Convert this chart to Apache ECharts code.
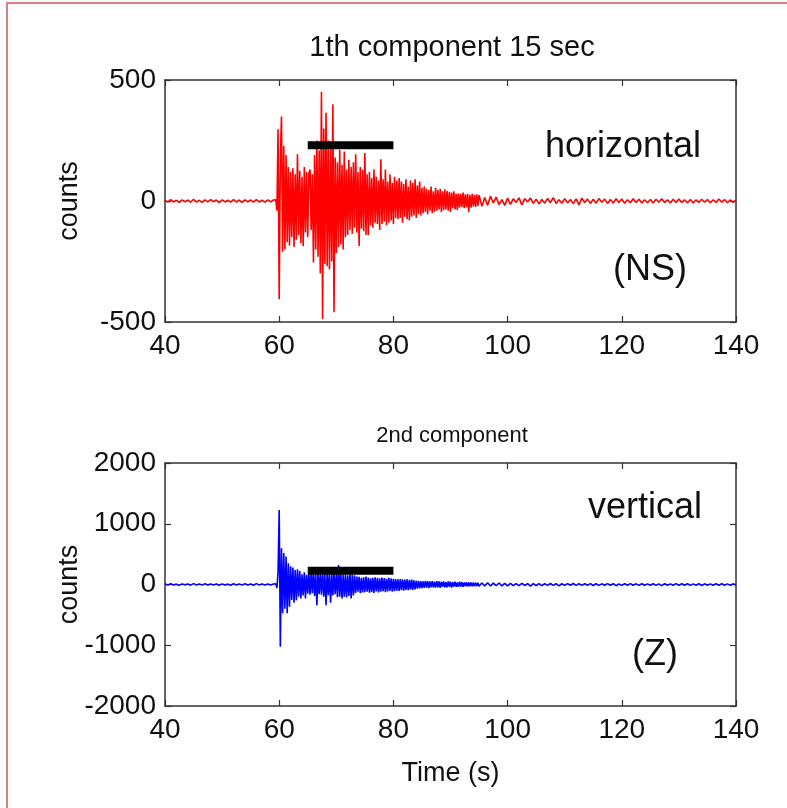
<!DOCTYPE html>
<html>
<head>
<meta charset="utf-8">
<script src="https://cdn.jsdelivr.net/npm/echarts@6/dist/echarts.min.js"></script>
<style>html,body{margin:0;padding:0;background:#fff;}#c{width:787px;height:808px;}</style>
</head>
<body>
<div id="c"></div>
<script>
// Traces are stored in three uniformly sampled pieces: [start s, step s, values]
// 1th component (horizontal, NS), counts
const nsPre = [ // 40 .. 59 s, step 0.5
  4,-5,6,-4,3,-6,5,-3,4,-5,
  7,-4,3,-6,5,-4,6,-3,4,-7,
  5,-4,3,-5,6,-4,4,-6,5,-3,
  4,-5,6,-4,3,-5,5,-4,4
];
const nsMain = [ // 59.4 .. 95.0 s, step 0.2
  5,-40,296,-406,180,349,-210,227,-200,190,
  -170,140,-185,120,-150,135,-190,110,-160,193,
  -140,125,-175,100,-187,140,-130,120,-150,115,
  130,-120,110,-254,190,-200,250,-230,210,-300,
  450,-488,300,-260,365,-270,250,-283,220,-250,
  400,-460,180,-215,160,-190,212,-180,150,-200,
  205,-150,130,-140,170,-120,140,-135,160,-110,
  193,-130,120,-186,140,-115,130,-125,198,-140,
  110,-140,120,-100,95,-110,130,-90,100,-95,
  85,-120,172,-95,90,-85,130,-100,80,-90,
  110,-80,75,-95,100,-70,85,-75,95,-70,
  80,-90,70,-65,90,-75,60,-80,85,-65,
  75,-60,90,-70,65,-55,80,-60,55,-50,
  60,-45,50,-55,45,-40,60,-50,40,-45,
  55,-40,45,-35,50,-45,40,-38,48,-35,
  42,-40,38,-45,35,-30,40,-35,30,-38,
  32,-28,30,-25,35,-30,28,-26,30,-45,
  25,-28,30,-22,26,-25,28,-20,24
];
const nsPost = [ // 95.5 .. 140 s, step 0.5
  -22,14,-18,20,-8,16,-15,6,-18,
  12,-14,9,-6,13,-16,10,-4,12,-10,
  8,-12,6,-9,11,-7,14,-10,5,-9,
  10,-8,6,-11,9,-16,12,-6,8,-10,
  7,-9,10,-5,8,-10,6,-8,9,-6,
  8,-9,5,-7,9,-6,7,-8,5,-7,
  6,-8,7,-5,9,-6,5,-8,7,-6,
  8,-6,5,-7,6,-8,5,-6,7,-5,
  6,-7,5,-6,8,-5,6,-7,5,-6,
  5
];
// 2nd component (vertical, Z), counts
const zPre = [ // 40 .. 59 s, step 0.5
  8,-10,12,-8,6,-12,10,-6,9,-11,
  14,-8,7,-10,12,-9,10,-7,8,-12,
  10,-8,6,-11,12,-9,8,-10,11,-7,
  9,-12,14,-8,7,-10,10,-9,8
];
const zMain = [ // 59.4 .. 95.0 s, step 0.2
  10,-60,200,1226,-1024,596,-475,520,-400,460,
  -475,350,-365,300,-255,280,-300,240,-260,250,
  -200,220,-230,170,-180,200,-230,160,-150,190,
  -170,200,-145,210,-190,180,-340,200,-160,190,
  -170,210,-200,180,-340,200,-175,190,-300,185,
  -180,200,-160,175,-210,320,-200,180,-230,160,
  -200,170,-215,150,-190,175,-230,160,-180,150,
  -140,130,-120,125,-145,110,-130,120,-125,130,
  -120,115,-135,100,-125,110,-140,120,-115,105,
  -130,100,-120,115,-110,105,-125,95,-115,110,
  -105,100,-120,95,-110,90,-100,85,-105,90,
  -95,85,-100,80,-90,85,-95,75,-85,80,
  -90,70,-80,65,-70,60,-65,55,-60,50,
  -55,60,-50,55,-60,50,-45,55,-50,45,
  -50,55,-45,50,-55,45,-40,50,-45,40,
  -45,50,-40,45,-50,40,-35,45,-40,35,
  -40,45,-35,40,-38,35,-30,38,-35,32,
  -30,35,-28,32,-30,28,-25,30,-28
];
const zPost = [ // 95.5 .. 140 s, step 0.5
  25,-22,28,-25,22,-20,25,-22,20,
  -22,18,-20,15,-18,20,-16,15,-25,14,
  -16,15,-18,12,-14,16,-15,13,-22,12,
  -15,14,-13,16,-14,12,-15,13,-12,14,
  -16,12,-14,11,-13,15,-12,13,-20,11,
  -14,12,-13,14,-12,11,-15,12,-13,10,
  -12,13,-14,11,-18,12,-13,10,-12,14,
  -13,11,-12,13,-14,10,-12,12,-16,11,
  -12,10,-13,12,-11,13,-12,10,-14,11,
  -10
];
const pieceStart = [40, 59.4, 95.5];
const pieceStep = [0.5, 0.2, 0.5];
// 15 s window bars (start, end in s; level in counts)
const windowSec = [65, 80];
const barLevelNS = 230;
const barLevelZ = 225;
// axes
const xRange = [40, 140], xStep = 20;
const nsRange = [-500, 500], nsStep = 500;
const zRange = [-2000, 2000], zStep = 1000;
const titles = ['1th component 15 sec', '2nd component'];
const notes = ['horizontal', '(NS)', 'vertical', '(Z)'];

const FONT = "'Liberation Sans', Arial, sans-serif";
const AX = '#333';
function joinPieces(pieces) {
  const out = [];
  pieces.forEach((vals, p) => vals.forEach((v, i) => out.push([+(pieceStart[p] + i * pieceStep[p]).toFixed(3), v])));
  return out;
}

function xAx(grid, top) {
  return {
    type: 'value', gridIndex: grid, min: xRange[0], max: xRange[1], interval: xStep,
    position: top ? 'top' : 'bottom',
    axisLine: { show: true, onZero: false, lineStyle: { color: AX, width: 1.5 } },
    axisTick: { show: true, inside: true, length: 6, lineStyle: { color: AX, width: 1.2 } },
    axisLabel: { show: !top, fontSize: 28, color: '#111', fontFamily: FONT, margin: 10 },
    splitLine: { show: false },
    name: (!top && grid === 1) ? 'Time (s)' : '',
    nameLocation: 'middle', nameGap: 54, nameMoveOverlap: false,
    nameTextStyle: { fontSize: 27, color: '#111', fontFamily: FONT }
  };
}
function yAx(grid, right, range, step) {
  return {
    type: 'value', gridIndex: grid, min: range[0], max: range[1], interval: step,
    position: right ? 'right' : 'left',
    axisLine: { show: true, onZero: false, lineStyle: { color: AX, width: 1.5 } },
    axisTick: { show: true, inside: true, length: 6, lineStyle: { color: AX, width: 1.2 } },
    axisLabel: { show: !right, fontSize: 28, color: '#111', fontFamily: FONT, margin: 9, formatter: v => String(v) },
    splitLine: { show: false },
    name: right ? '' : 'counts',
    nameLocation: 'middle', nameRotate: 90, nameGap: 82, nameMoveOverlap: false,
    nameTextStyle: { fontSize: 27, color: '#111', fontFamily: FONT }
  };
}

const chart = echarts.init(document.getElementById('c'), null, { renderer: 'canvas' });
chart.setOption({
  animation: false,
  backgroundColor: '#fff',
  grid: [
    { left: 165, top: 80, width: 571, height: 242 },
    { left: 165, top: 463, width: 571, height: 243 }
  ],
  xAxis: [xAx(0, false), xAx(0, true), xAx(1, false), xAx(1, true)],
  yAxis: [yAx(0, false, nsRange, nsStep), yAx(0, true, nsRange, nsStep),
          yAx(1, false, zRange, zStep), yAx(1, true, zRange, zStep)],
  series: [
    { type: 'line', xAxisIndex: 0, yAxisIndex: 0, data: joinPieces([nsPre, nsMain, nsPost]), showSymbol: false,
      lineStyle: { color: '#ff0000', width: 1.6 }, z: 2 },
    { type: 'line', xAxisIndex: 2, yAxisIndex: 2, data: joinPieces([zPre, zMain, zPost]), showSymbol: false,
      lineStyle: { color: '#0000ff', width: 1.6 }, z: 2 },
    { type: 'line', xAxisIndex: 0, yAxisIndex: 0, data: windowSec.map(t => [t, barLevelNS]),
      showSymbol: false, lineStyle: { color: '#000', width: 8, cap: 'butt' }, z: 5 },
    { type: 'line', xAxisIndex: 2, yAxisIndex: 2, data: windowSec.map(t => [t, barLevelZ]),
      showSymbol: false, lineStyle: { color: '#000', width: 8, cap: 'butt' }, z: 5 }
  ],
  graphic: [
    { type: 'rect', shape: { x: 7, y: 3, width: 900, height: 900 }, style: { fill: 'none', stroke: '#d98080', lineWidth: 2 }, z: 0 },
    { type: 'text', x: 452, y: 48, style: { text: titles[0], font: '29px ' + FONT, fill: '#111', textAlign: 'center', textVerticalAlign: 'middle' } },
    { type: 'text', x: 452, y: 436, style: { text: titles[1], font: '22px ' + FONT, fill: '#111', textAlign: 'center', textVerticalAlign: 'middle' } },
    { type: 'text', x: 623, y: 147, style: { text: notes[0], font: '36px ' + FONT, fill: '#111', textAlign: 'center', textVerticalAlign: 'middle' } },
    { type: 'text', x: 650, y: 270, style: { text: notes[1], font: '36px ' + FONT, fill: '#111', textAlign: 'center', textVerticalAlign: 'middle' } },
    { type: 'text', x: 645, y: 508, style: { text: notes[2], font: '36px ' + FONT, fill: '#111', textAlign: 'center', textVerticalAlign: 'middle' } },
    { type: 'text', x: 655, y: 655, style: { text: notes[3], font: '36px ' + FONT, fill: '#111', textAlign: 'center', textVerticalAlign: 'middle' } }
  ]
});
</script>
</body>
</html>
